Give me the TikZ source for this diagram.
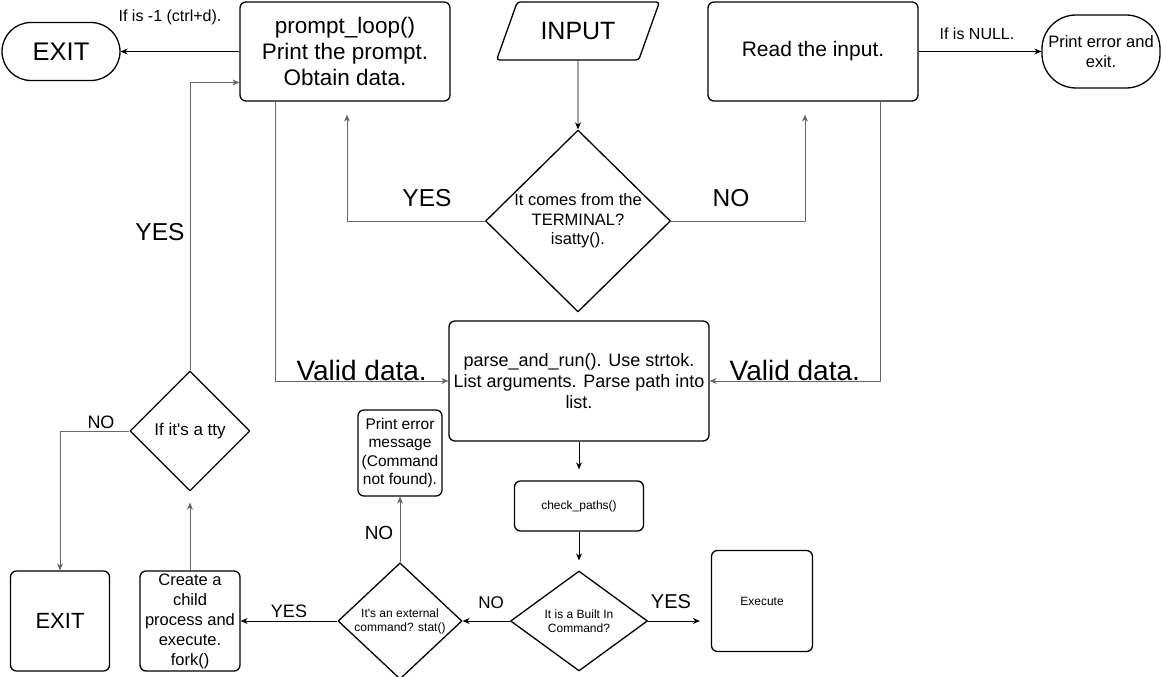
\documentclass[tikz,border=0pt]{standalone}
\usepackage{fontspec}
\setmainfont{Liberation Sans}
\usetikzlibrary{arrows.meta,shapes.geometric}
\definecolor{lgray}{HTML}{666666}
\newcommand{\fs}[2]{\fontsize{#1}{#2}\selectfont}
\begin{document}
\begin{tikzpicture}[x=1pt, y=-1pt, line join=round, >={Stealth[length=7pt,width=6pt]},
  box/.style={draw, line width=1.3pt, rounded corners=6pt, align=center, inner sep=1pt},
  dec/.style={draw, diamond, line width=1.3pt, align=center, inner sep=0pt},
  lbl/.style={inner sep=0pt},
  arr/.style={->, line width=0.8pt},
  garr/.style={->, line width=0.8pt, lgray}]
\useasboundingbox (0,0) rectangle (1163,677);
\node[box, rounded corners=29pt, minimum width=118pt, minimum height=58pt, font=\fs{25.5}{30}] (exit1) at (61,51.5) {EXIT};
\node[box, minimum width=210pt, minimum height=99pt, font=\fs{22.5}{26}] (prompt) at (345,51.5) {prompt\_loop()\\Print the prompt.\\Obtain data.};
\node[draw, trapezium, trapezium left angle=60, trapezium right angle=120, trapezium stretches=true, minimum width=163pt, minimum height=58pt, line width=1.3pt, rounded corners=3pt, font=\fs{25}{30}] (input) at (578,31) {INPUT};
\node[box, minimum width=210pt, minimum height=99pt, font=\fs{21}{25}] (read) at (813,51.5) {Read the input.};
\node[box, rounded corners=34pt, minimum width=118pt, minimum height=73pt, font=\fs{16.5}{20}] (perr) at (1101,51.5) {Print error and\\exit.};
\node[dec, minimum width=185pt, minimum height=182pt, font=\fs{16.5}{19.5}] (term) at (578,221) {It comes from the\\TERMINAL?\\isatty().};
\node[box, minimum width=260pt, minimum height=120pt, font=\fs{18}{21}] (parse) at (579,381) {parse\_and\_run(). Use strtok.\\List arguments. Parse path into\\list.};
\node[box, minimum width=129pt, minimum height=50pt, font=\fs{12}{14}] (check) at (579,506) {check\_paths()};
\node[dec, minimum width=137pt, minimum height=100pt, font=\fs{12}{14}] (builtin) at (579,621) {It is a Built In\\Command?};
\node[box, minimum width=101pt, minimum height=101pt, font=\fs{12}{14}] (exec) at (762,601) {Execute};
\node[dec, minimum width=124pt, minimum height=109pt, font=\fs{12}{14}] (extern) at (400,621) {It\textquotesingle s an external\\command? stat()};
\node[box, minimum width=84pt, minimum height=86pt, font=\fs{15.5}{18.5}] (nofound) at (400,453) {Print error\\message\\(Command\\not found).};
\node[box, minimum width=100pt, minimum height=100pt, inner sep=0pt, font=\fs{16.5}{20}] (fork) at (190,621) {Create a\\child\\process and\\execute.\\fork()};
\node[dec, minimum width=120pt, minimum height=120pt, font=\fs{17}{20}] (tty) at (190,431) {If it\textquotesingle s a tty};
\node[box, minimum width=99pt, minimum height=100pt, font=\fs{22}{26}] (exit2) at (60,621) {EXIT};

\draw[arr] (prompt.west) -- (exit1.east);
\draw[arr] (input.south) -- (term.north);
\draw[garr, shorten >=13pt] (term.west) -| ([xshift=2pt]prompt.south);
\draw[garr, shorten >=13pt] (term.east) -| ([xshift=-8pt]read.south);
\draw[arr] (read.east) -- (perr.west);
\draw[garr] ([xshift=-70pt]prompt.south) |- (parse.west) node[pos=0.75, above, lbl, font=\fs{28}{32}, text=black] {Valid data.};
\draw[garr] ([xshift=67pt]read.south) |- (parse.east) node[pos=0.75, above, lbl, font=\fs{28}{32}, text=black] {Valid data.};
\draw[arr, shorten >=11pt] (parse.south) -- (check.north);
\draw[arr, shorten >=10pt] (check.south) -- (builtin.north);
\draw[arr, shorten >=11pt] (builtin.east) -- (builtin.east -| exec.west);
\draw[arr] (builtin.west) -- (extern.east);
\draw[garr] (extern.north) -- (nofound.south);
\draw[arr] (extern.west) -- (fork.east);
\draw[garr, shorten >=11pt] (fork.north) -- (tty.south);
\draw[garr] (tty.north) |- ([yshift=-31pt]prompt.west);
\draw[garr] (tty.west) -| (exit2.north);

\node[lbl, font=\fs{16}{19}] (lminus) at (170,17) {If is -1 (ctrl+d).};
\node[lbl, font=\fs{16}{19}] (lnull) at (977,34) {If is NULL.};
\node[lbl, font=\fs{24.5}{28}] (lyesterm) at (427,198) {YES};
\node[lbl, font=\fs{24.5}{28}] (lnoterm) at (731,198) {NO};
\node[lbl, font=\fs{24.5}{28}] (lyestty) at (160,232) {YES};
\node[lbl, font=\fs{18}{21}] (lnotty) at (101,422) {NO};
\node[lbl, font=\fs{18}{21}] (lyesext) at (289,611) {YES};
\node[lbl, font=\fs{19}{22}] (lnoext) at (379,533) {NO};
\node[lbl, font=\fs{17}{20}] (lnobuilt) at (491,603) {NO};
\node[lbl, font=\fs{20}{23}] (lyesbuilt) at (671,602) {YES};
\end{tikzpicture}
\end{document}
